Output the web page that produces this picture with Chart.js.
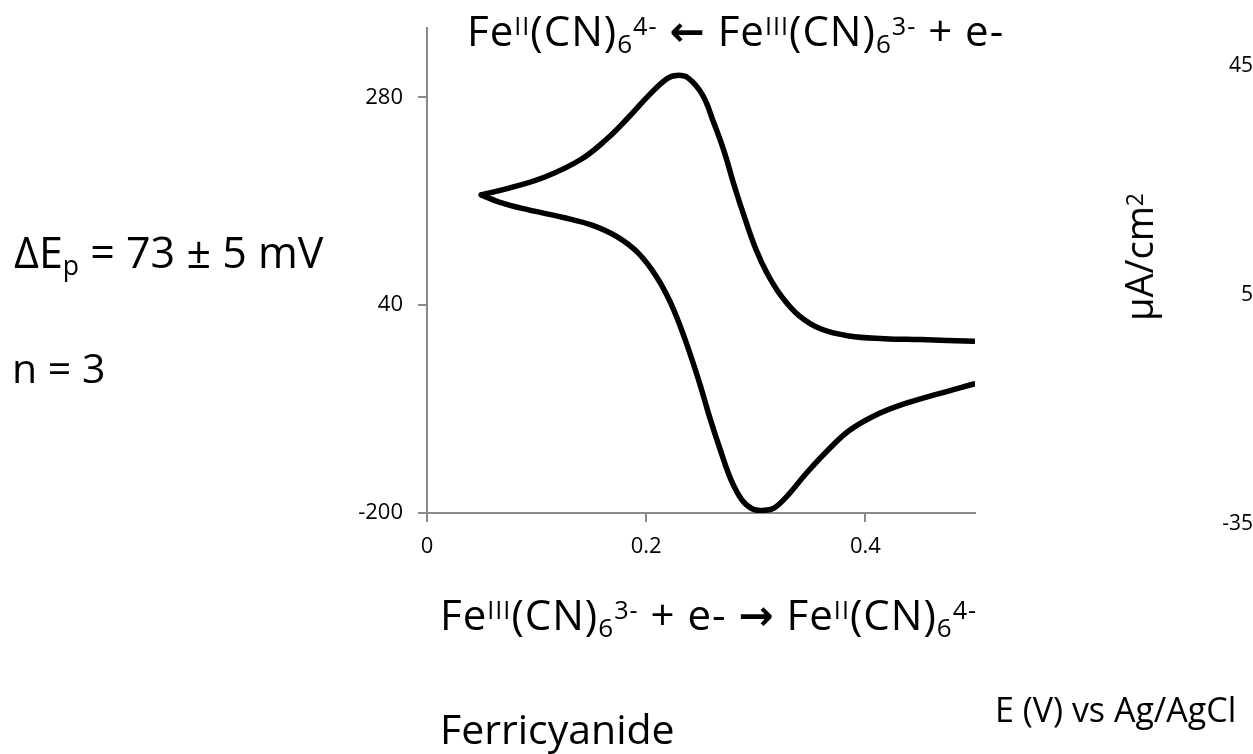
<!DOCTYPE html>
<html>
<head>
<meta charset="utf-8">
<script src="https://cdn.jsdelivr.net/npm/chart.js@4.4.1/dist/chart.umd.min.js"></script>
<style>
  body { margin: 0; background: #fff; }
  #wrap { position: relative; width: 1253px; height: 754px; overflow: hidden; font-family: "Open Sans", sans-serif; color: #000; }
  #cv { position: absolute; left: 0; top: 0; }
  .lbl { position: absolute; white-space: nowrap; line-height: 1; font-size: 40px; }
  .rx { font-size: 42px; letter-spacing: 1px; }
  .sup { font-size: 0.6em; line-height: 0; vertical-align: 0.42em; }
  .sub { font-size: 0.62em; line-height: 0; vertical-align: -0.28em; }
  .arr { font-family: "DejaVu Sans", sans-serif; font-weight: bold; }
  .num { position: absolute; font-size: 21px; line-height: 1; right: 0; }
</style>
</head>
<body>
<div id="wrap">
  <canvas id="cv" width="1253" height="754"></canvas>

  <div class="lbl rx" style="left:467px; top:9px;">Fe<span class="sup">II</span>(CN)<span class="sub">6</span><span class="sup">4-</span> <span class="arr">&#8592;</span> Fe<span class="sup">III</span>(CN)<span class="sub">6</span><span class="sup">3-</span> + e-</div>
  <div class="lbl rx" style="left:440px; top:593px;">Fe<span class="sup">III</span>(CN)<span class="sub">6</span><span class="sup">3-</span> + e- <span class="arr">&#8594;</span> Fe<span class="sup">II</span>(CN)<span class="sub">6</span><span class="sup">4-</span></div>
  <div class="lbl" style="left:440px; top:708px; font-size:41px;">Ferricyanide</div>
  <div class="lbl" style="left:14px; top:230px; font-size:43px;">&#916;E<span class="sub">p</span> = 73 &#177; 5 mV</div>
  <div class="lbl" style="left:12px; top:347px; font-size:41px;">n = 3</div>
  <div class="lbl" style="left:995px; top:692px; font-size:34px;">E (V) vs Ag/AgCl</div>
  <div class="lbl" style="left:1138px; top:257px; font-size:38px; transform: translate(-50%, -50%) rotate(-90deg);">&#181;A/cm<span class="sup">2</span></div>
  <div class="num" style="top:54px;">45</div>
  <div class="num" style="top:283px;">5</div>
  <div class="num" style="top:512px;">-35</div>
</div>

<script>
// potential (V) and current density (uA/cm2), two sweeps
const eUpper = [0.0495, 0.0756, 0.1081, 0.1407, 0.1635, 0.1831, 0.2026, 0.2189, 0.228, 0.2384, 0.2515, 0.2612, 0.271, 0.2808, 0.2906, 0.3003, 0.3101, 0.3231, 0.3394, 0.359, 0.385, 0.4176, 0.4502, 0.499];
const iUpper = [167.5, 175.5, 188.4, 208.6, 231.4, 256, 282.7, 301.7, 305.5, 302.4, 282.7, 252.3, 218.1, 176.3, 138.2, 104, 77.4, 50.8, 28, 12.8, 4.5, 1.4, 0.3, -1.6];

const eLower = [0.0495, 0.0658, 0.0919, 0.1244, 0.1505, 0.1733, 0.1928, 0.2091, 0.2221, 0.2352, 0.2482, 0.258, 0.2678, 0.2775, 0.2873, 0.2971, 0.3062, 0.3166, 0.3296, 0.3459, 0.3655, 0.385, 0.4078, 0.4339, 0.4664, 0.499];
const iLower = [167.5, 159.2, 150.4, 141.3, 132.5, 119.2, 100.2, 73.6, 43.2, 1.4, -48, -89.8, -127.8, -162, -184.8, -195.4, -197, -194.3, -179, -154.4, -127.8, -105, -87.9, -74.6, -62.4, -51];

const xTicks = [0, 0.2, 0.4];
const yTicks = [-200, 40, 280];

const axisGrey = '#8a8a8a';

function toPoints(xs, ys) {
    return xs.map((x, i) => ({ x: x, y: ys[i] }));
}

const lineStyle = {
    showLine: true,
    borderColor: '#000',
    borderWidth: 5.5,
    pointRadius: 0,
    tension: 0.4,
    borderCapStyle: 'round',
    borderJoinStyle: 'round'
};

const ctx = document.getElementById('cv').getContext('2d');

new Chart(ctx, {
    type: 'scatter',
    data: {
        datasets: [
            Object.assign({ label: 'upper', data: toPoints(eUpper, iUpper) }, lineStyle),
            Object.assign({ label: 'lower', data: toPoints(eLower, iLower) }, lineStyle)
        ]
    },
    options: {
        responsive: false,
        animation: false,
        devicePixelRatio: 1,
        layout: { padding: { left: 327, right: 278, top: 20, bottom: 181 } },
        plugins: {
            legend: { display: false },
            tooltip: { enabled: false }
        },
        scales: {
            x: {
                type: 'linear',
                min: 0,
                max: 0.5,
                afterBuildTicks: scale => { scale.ticks = xTicks.map(v => ({ value: v })); },
                afterFit: scale => { scale.height = 60; },
                grid: { drawOnChartArea: false, drawTicks: true, tickLength: 9, color: axisGrey, lineWidth: 2 },
                border: { color: axisGrey, width: 2 },
                ticks: {
                    padding: 12,
                    color: '#000',
                    font: { family: 'Open Sans', size: 22 },
                    callback: v => String(v)
                }
            },
            y: {
                type: 'linear',
                min: -200,
                max: 360,
                afterBuildTicks: scale => { scale.ticks = yTicks.map(v => ({ value: v })); },
                afterFit: scale => { scale.width = 100; },
                grid: { drawOnChartArea: false, drawTicks: true, tickLength: 9, color: axisGrey, lineWidth: 2 },
                border: { color: axisGrey, width: 2 },
                ticks: {
                    padding: 15,
                    color: '#000',
                    font: { family: 'Open Sans', size: 22 }
                }
            }
        }
    }
});
</script>
</body>
</html>
